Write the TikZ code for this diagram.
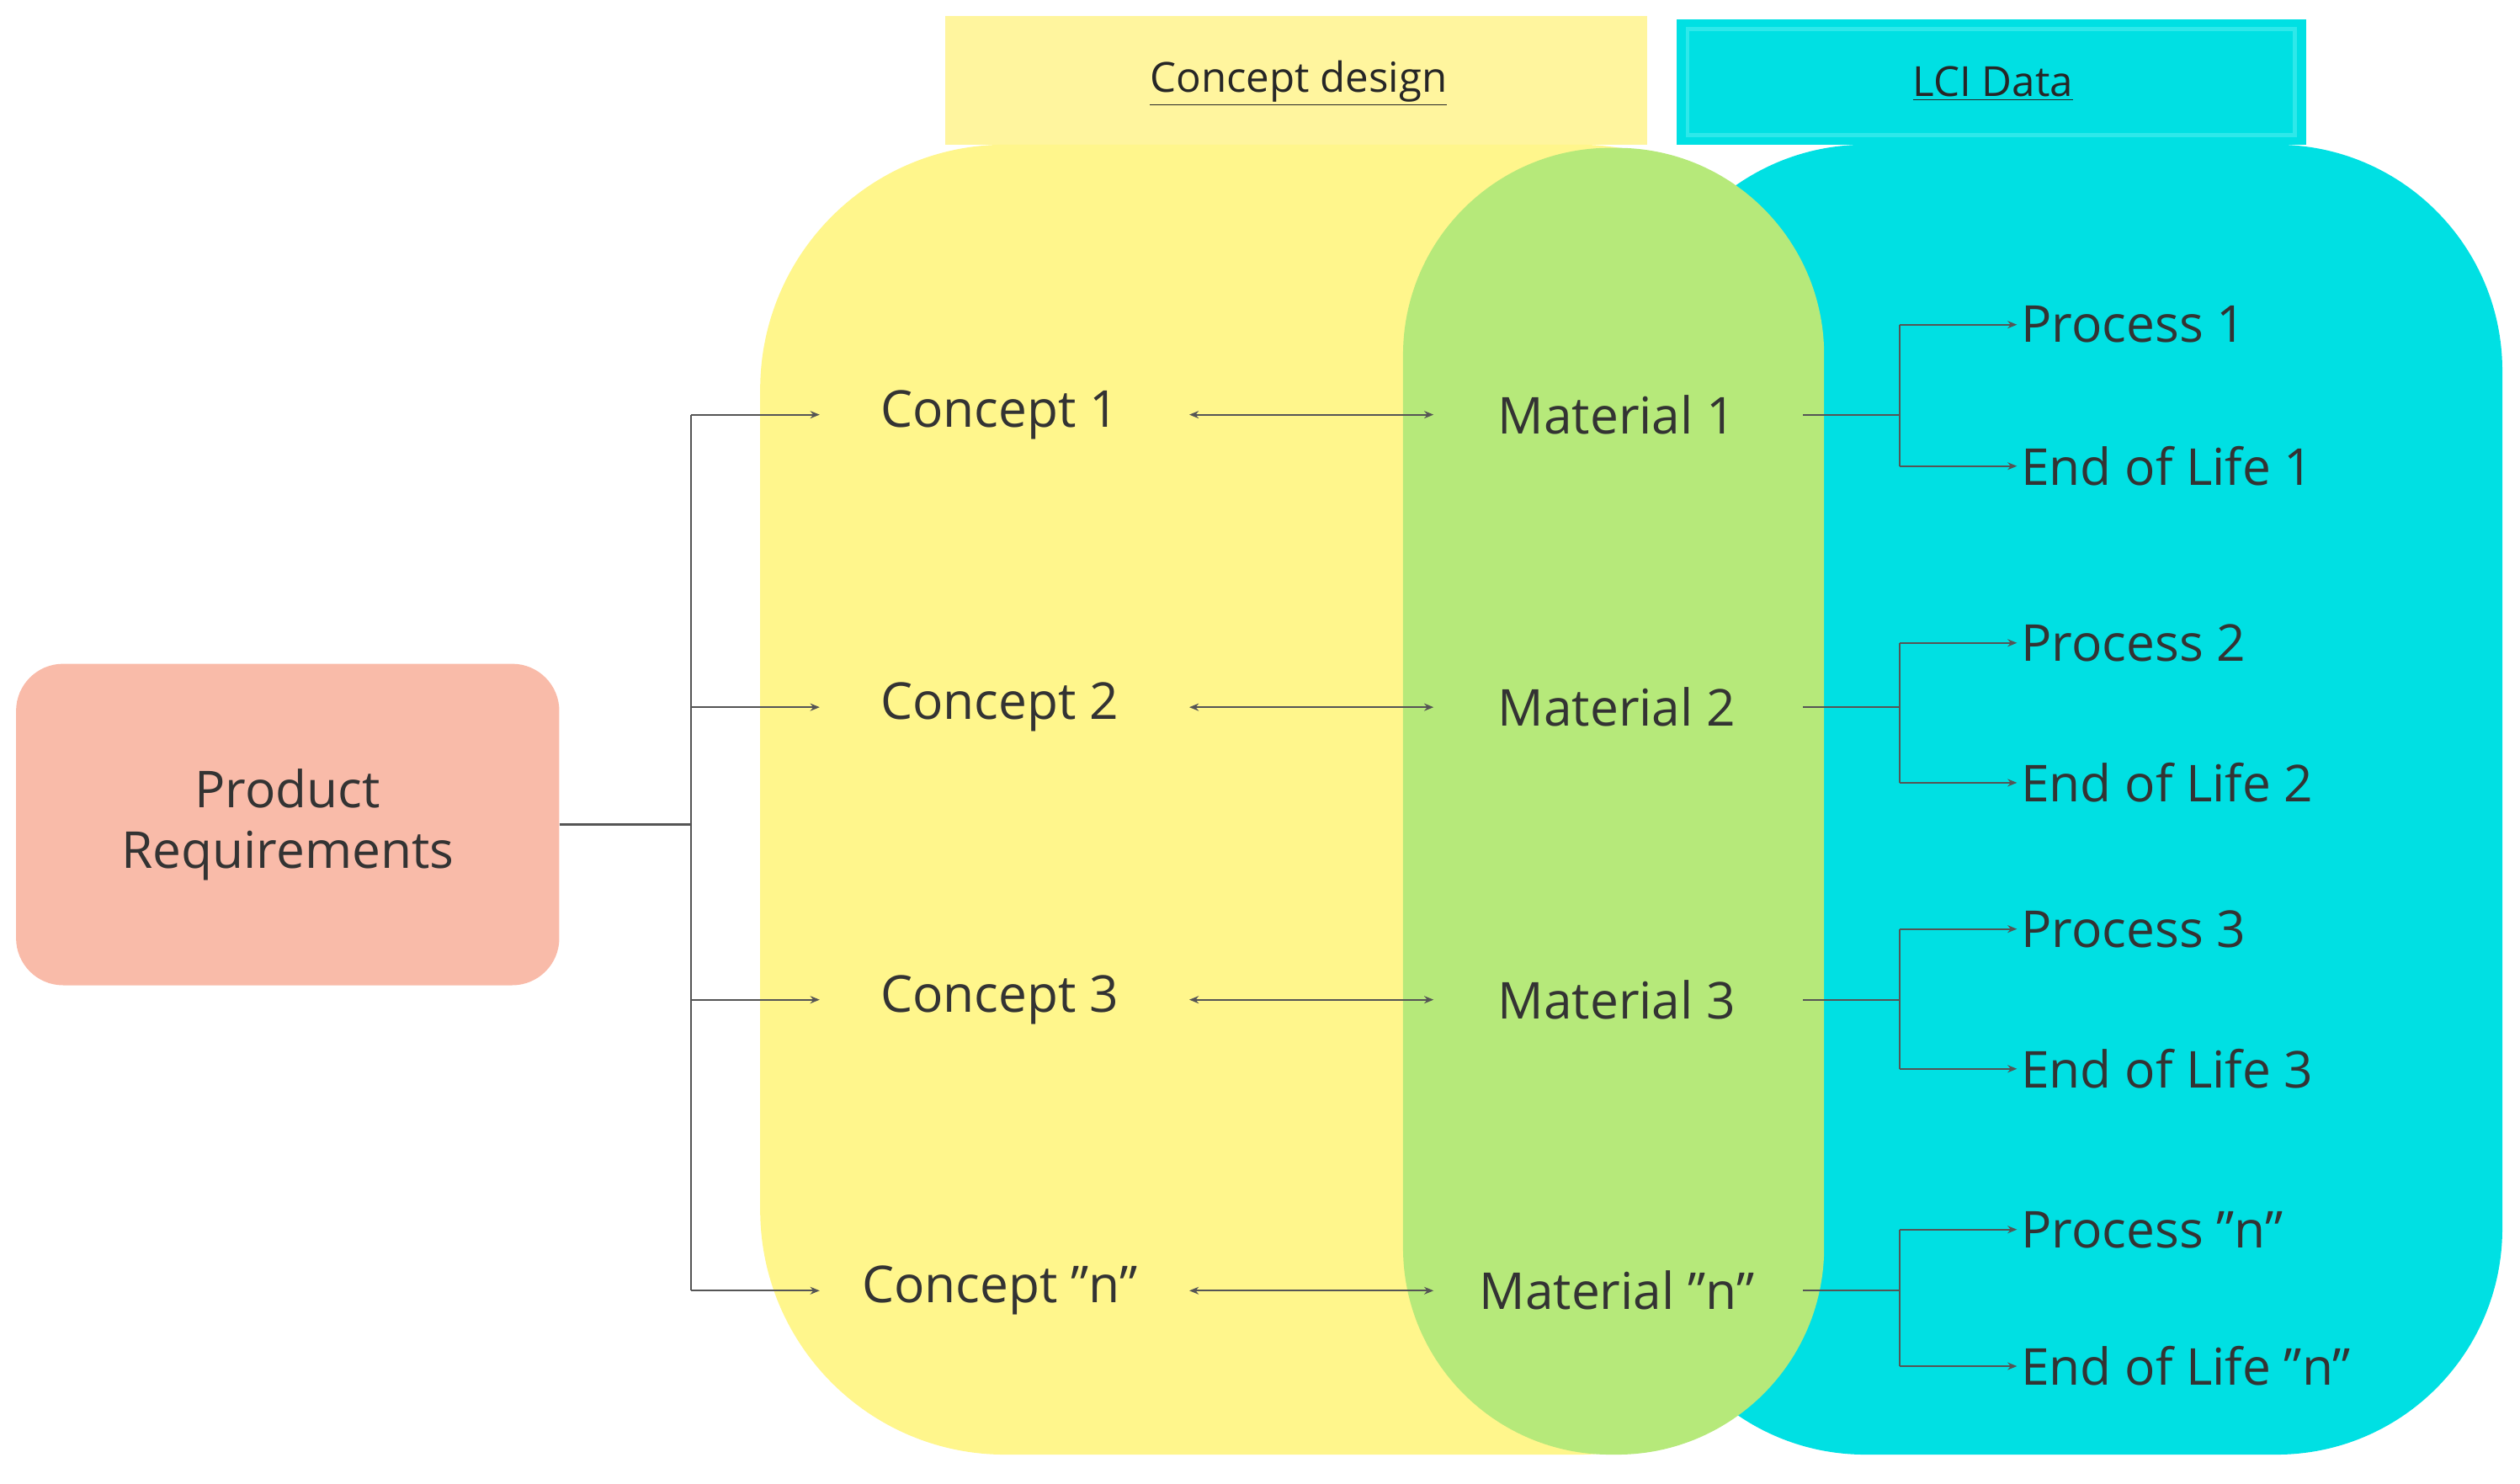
\documentclass[tikz,border=0pt]{standalone}
\usepackage{fontspec}
\setmainfont{Open Sans}
\usetikzlibrary{arrows.meta}
\definecolor{yel}{HTML}{FFF68C}
\definecolor{yelh}{HTML}{FFF59E}
\definecolor{cy}{HTML}{00E0E3}
\definecolor{cyh}{HTML}{2EE8EA}
\definecolor{gr}{HTML}{B6E97A}
\definecolor{pk}{HTML}{F9BBA9}
\definecolor{ln}{HTML}{555555}
\begin{document}
\begin{tikzpicture}[x=0.03cm,y=-0.03cm,
  lab/.style={font=\fontsize{27}{32}\selectfont, text=black!80, inner sep=2pt},
  hd/.style={font=\fontsize{22}{26}\selectfont, text=black!85},
  ar/.style={draw=ln, line width=0.8pt, -{Stealth[length=5pt,width=4pt]}},
  ln/.style={draw=ln, line width=0.8pt}]
\useasboundingbox (0,0) rectangle (1568,923);
% headers
\fill[yelh] (588,10) rectangle (1025,90);
\fill[cy] (1043,12) rectangle (1435,90);
\draw[cyh,line width=2pt] (1050,18) rectangle (1428,84);
\node[hd] (h1) at (808,52) {\underline{Concept design}};
\node[hd] (h2) at (1240,52) {\underline{LCI Data}};
% big regions
\fill[yel] (473,90) [rounded corners=130pt] rectangle (1135,905);
\fill[cy] (1020,90) [rounded corners=120pt] rectangle (1557,905);
\fill[gr] (873,92) [rounded corners=110pt] rectangle (1135,905);
% product
\node[fill=pk, rounded corners=25pt, minimum width=338*0.03cm, minimum height=200*0.03cm, lab, align=center] (pr) at (179,513) {Product\\Requirements};
\coordinate (t) at (430,513);
\draw[ln, line width=1.2pt] (pr.east) -- (t);
\draw[ln] (430,258) -- (430,803);
\foreach \y/\i/\n in {258/1/1,440/2/2,622/3/3,803/n/{"n"}}{
  \coordinate (b\i) at (430,\y);
  \node[lab] (c\i) at (622,\y) {Concept \n};
  \node[lab] (m\i) at (1006,\y) {Material \n};
  \draw[ar] (b\i) -- (510,\y);
  \coordinate (cl\i) at (740,\y);
  \coordinate (ml\i) at (892,\y);
  \draw[draw=ln, line width=0.8pt, {Stealth[length=5pt,width=4pt]}-{Stealth[length=5pt,width=4pt]}] (cl\i) -- (ml\i);
}
\foreach \i/\n/\a/\b in {1/1/202/290,2/2/400/487,3/3/578/665,n/{"n"}/765/850}{
  \coordinate (mr\i) at (1122,0);
  \node[lab,anchor=west] (p\i) at (1255,\a) {Process \n};
  \node[lab,anchor=west] (e\i) at (1255,\b) {End of Life \n};
  \coordinate (j\i) at (1182,0);
}
\foreach \i/\y/\a/\b in {1/258/202/290,2/440/400/487,3/622/578/665,n/803/765/850}{
  \draw[ln] (1122,\y) -- (1182,\y);
  \draw[ln] (1182,\a) -- (1182,\b);
  \draw[ar] (1182,\a) -- (p\i.west);
  \draw[ar] (1182,\b) -- (e\i.west);
}
\end{tikzpicture}
\end{document}
